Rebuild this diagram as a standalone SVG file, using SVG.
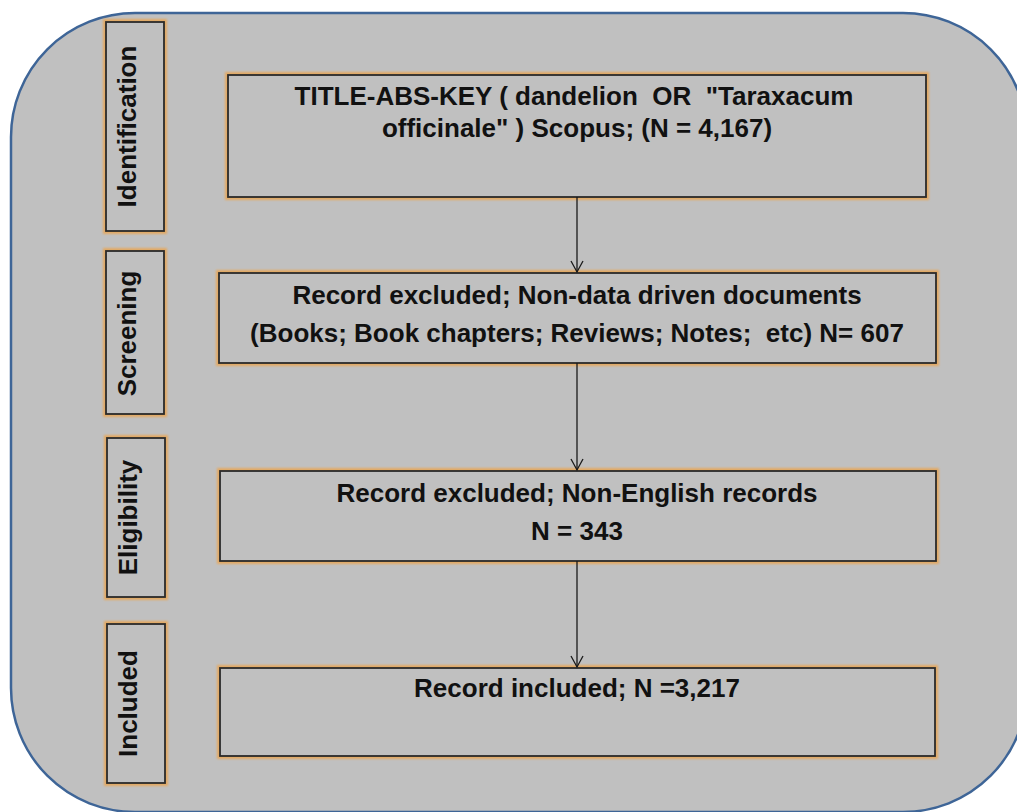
<svg xmlns="http://www.w3.org/2000/svg" width="1017" height="812" viewBox="0 0 1017 812">
  <defs>
    <filter id="glow" x="-10%" y="-10%" width="120%" height="120%">
      <feGaussianBlur stdDeviation="1.2"/>
    </filter>
    <marker id="arrow" markerWidth="14" markerHeight="14" refX="12" refY="7" orient="auto" markerUnits="userSpaceOnUse">
      <path d="M1,1 L12,7 L1,13" fill="none" stroke="#1a1a1a" stroke-width="1.3"/>
    </marker>
  </defs>
  <style>
    .halo { fill: none; stroke: #e3a962; stroke-width: 6; filter: url(#glow); }
    .box { fill: #c0c0c0; stroke: #2a2a2a; stroke-width: 1.8; }
    .txt { font-family: "Liberation Sans", Arial, sans-serif; font-weight: bold; font-size: 26px; fill: #111; text-anchor: middle; white-space: pre; }
    .side { font-family: "Liberation Sans", Arial, sans-serif; font-weight: bold; font-size: 26px; fill: #111; text-anchor: middle; }
    .conn { stroke: #1a1a1a; stroke-width: 1.3; fill: none; }
  </style>

  <rect width="1017" height="812" fill="#ffffff"/>

  <!-- rounded panel behind the flow -->
  <rect id="panel" x="11" y="13" width="1016" height="799" rx="124" ry="124" fill="#c0c0c0" stroke="#3e6597" stroke-width="2.5"/>

  <!-- stage labels -->
  <g id="stage-identification">
    <rect class="halo" x="106" y="22" width="58" height="209"/>
    <rect class="box" x="106" y="22" width="58" height="209"/>
    <text class="side" transform="translate(136,126.5) rotate(-90)">Identification</text>
  </g>
  <g id="stage-screening">
    <rect class="halo" x="106" y="251" width="58" height="163"/>
    <rect class="box" x="106" y="251" width="58" height="163"/>
    <text class="side" transform="translate(136,333.5) rotate(-90)">Screening</text>
  </g>
  <g id="stage-eligibility">
    <rect class="halo" x="107" y="438" width="58" height="159"/>
    <rect class="box" x="107" y="438" width="58" height="159"/>
    <text class="side" transform="translate(137,517.5) rotate(-90)">Eligibility</text>
  </g>
  <g id="stage-included">
    <rect class="halo" x="107" y="624" width="58" height="159"/>
    <rect class="box" x="107" y="624" width="58" height="159"/>
    <text class="side" transform="translate(137,703.5) rotate(-90)">Included</text>
  </g>

  <!-- flow boxes -->
  <g id="search">
    <rect class="halo" x="228" y="75" width="698" height="122"/>
    <rect class="box" x="228" y="75" width="698" height="122"/>
    <text class="txt" x="574" y="105" xml:space="preserve">TITLE-ABS-KEY ( dandelion  OR  "Taraxacum</text>
    <text class="txt" x="577" y="137">officinale" ) Scopus; (N = 4,167)</text>
  </g>
  <g id="screened">
    <rect class="halo" x="219" y="273" width="717" height="90"/>
    <rect class="box" x="219" y="273" width="717" height="90"/>
    <text class="txt" x="577" y="304">Record excluded; Non-data driven documents</text>
    <text class="txt" x="577" y="342" xml:space="preserve">(Books; Book chapters; Reviews; Notes;  etc) N= 607</text>
  </g>
  <g id="eligible">
    <rect class="halo" x="220" y="471" width="716" height="90"/>
    <rect class="box" x="220" y="471" width="716" height="90"/>
    <text class="txt" x="577" y="502">Record excluded; Non-English records</text>
    <text class="txt" x="577" y="540">N = 343</text>
  </g>
  <g id="included">
    <rect class="halo" x="220" y="668" width="715" height="88"/>
    <rect class="box" x="220" y="668" width="715" height="88"/>
    <text class="txt" x="577" y="697">Record included; N =3,217</text>
  </g>

  <!-- connectors -->
  <g id="connectors">
    <line class="conn" x1="577" y1="197" x2="577" y2="272" marker-end="url(#arrow)"/>
    <line class="conn" x1="577" y1="363" x2="577" y2="470" marker-end="url(#arrow)"/>
    <line class="conn" x1="577" y1="561" x2="577" y2="667" marker-end="url(#arrow)"/>
  </g>
</svg>
